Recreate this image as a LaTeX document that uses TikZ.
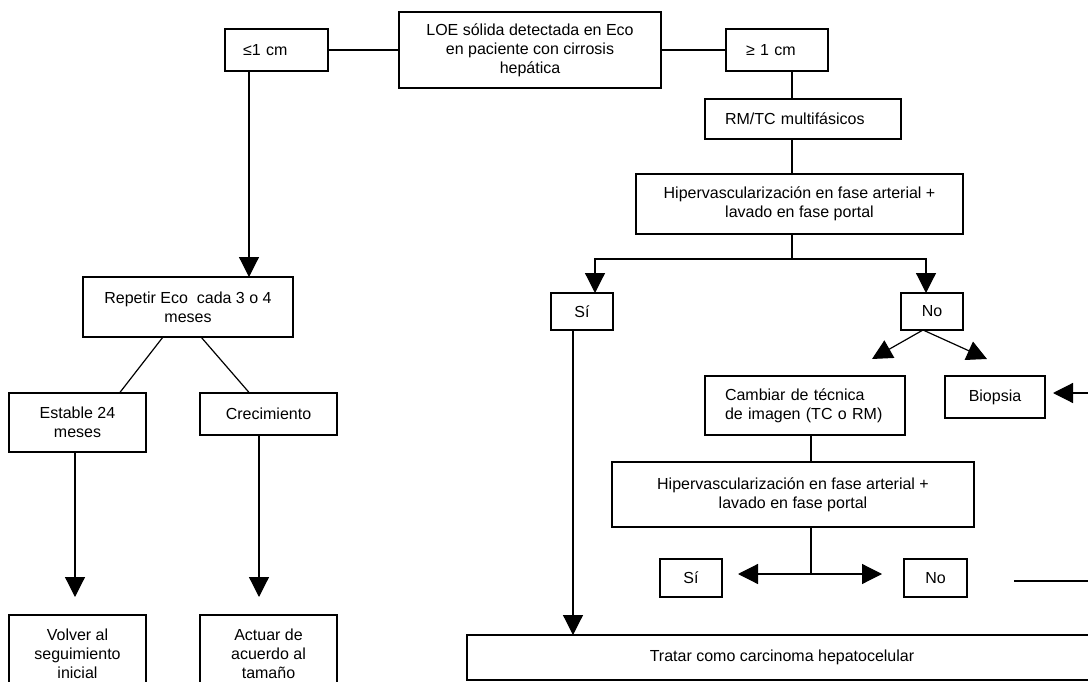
\documentclass[tikz,border=0pt]{standalone}
\usepackage{fontspec}
\setmainfont{Liberation Sans}
\usetikzlibrary{arrows.meta}
\tikzset{
  box/.style={draw, line width=1.2pt, outer sep=0pt, inner sep=0pt, align=center,
    font=\fontsize{16pt}{19pt}\selectfont},
  lbox/.style={box, align=left},
  ln/.style={line width=1.2pt},
  arr/.style={line width=1.2pt, -{Triangle[length=20pt,width=20pt]}}
}
\begin{document}
\begin{tikzpicture}[x=1pt,y=-1pt]
\useasboundingbox (0,0) rectangle (1088,682);
\clip (0,0) rectangle (1088,682);
\fill[white] (0,0) rectangle (1088,682);

% nodes
\node[lbox, minimum width=103pt, minimum height=42pt, inner xsep=18pt, text width=67pt] (le1) at (276.5,50) {≤1 cm};
\node[box, minimum width=262pt, minimum height=76pt] (loe) at (530,50) {LOE sólida detectada en Eco\\en paciente con cirrosis\\hepática};
\node[lbox, minimum width=102pt, minimum height=42pt, inner xsep=20pt, text width=62pt] (ge1) at (777,50) {≥ 1 cm};
\node[lbox, minimum width=196pt, minimum height=40pt, inner xsep=20pt, text width=156pt] (rmtc) at (803,119) {RM/TC multifásicos};
\node[box, minimum width=327pt, minimum height=60pt] (hip1) at (799.5,204) {Hipervascularización en fase arterial +\\lavado en fase portal};
\node[box, minimum width=62pt, minimum height=37pt] (si1) at (582,311.5) {Sí};
\node[box, minimum width=62pt, minimum height=37pt] (no1) at (932,311.5) {No};
\node[lbox, minimum width=200pt, minimum height=59pt, inner xsep=20pt, text width=160pt] (cambiar) at (805,405.5) {Cambiar de técnica\\de imagen (TC o RM)};
\node[box, minimum width=100pt, minimum height=42pt] (biopsia) at (995,397) {Biopsia};
\node[box, minimum width=362pt, minimum height=65pt] (hip2) at (793,494.5) {Hipervascularización en fase arterial +\\lavado en fase portal};
\node[box, minimum width=62pt, minimum height=38pt] (si2) at (691,578) {Sí};
\node[box, minimum width=63pt, minimum height=38pt] (no2) at (935.5,578) {No};
\node[box, minimum width=630pt, minimum height=45pt] (tratar) at (782,657.5) {Tratar como carcinoma hepatocelular};
\node[box, minimum width=210pt, minimum height=60pt] (repetir) at (188,307) {Repetir Eco\ \ cada 3 o 4\\meses};
\node[box, minimum width=137pt, minimum height=59pt] (estable) at (77.5,422.5) {Estable 24\\meses};
\node[box, minimum width=137pt, minimum height=42pt] (crec) at (268.5,414) {Crecimiento};
\node[box, minimum width=137pt, minimum height=77pt] (volver) at (77.5,653.5) {Volver al\\seguimiento\\inicial};
\node[box, minimum width=137pt, minimum height=77pt] (actuar) at (268.5,653.5) {Actuar de\\acuerdo al\\tamaño};

% coordinates
\coordinate (c1) at (249,0);
\coordinate (sp) at (792,259);
\coordinate (tipL) at (872,359);
\coordinate (tipR) at (987,359);
\coordinate (sp2) at (811,574);
\coordinate (tipS) at (738,574);
\coordinate (tipN) at (882,574);
\coordinate (noOut) at (1014,581);
\coordinate (farR) at (1110,581);
\coordinate (tipB) at (1053,393);
\coordinate (e1) at (75,597);
\coordinate (c2) at (259,597);

% connectors
\draw[ln] (loe.west) -- (le1.east);
\draw[ln] (loe.east) -- (ge1.west);
\draw[arr] (c1 |- le1.south) -- (c1 |- repetir.north);
\draw[ln] (sp |- ge1.south) -- (sp |- rmtc.north);
\draw[ln] (sp |- rmtc.south) -- (sp |- hip1.north);
\draw[ln] (sp |- hip1.south) -- (sp);
\draw[arr] (sp) -| ([xshift=13pt]si1.north);
\draw[arr] (sp) -| ([xshift=-6pt]no1.north);
\draw[arr] ([xshift=-9pt]si1.south) -- ([xshift=-9pt]si1.south |- tratar.north);
\draw[arr] ([xshift=-9pt]no1.south) -- (tipL);
\draw[arr] ([xshift=-9pt]no1.south) -- (tipR);
\draw[ln] (sp2 |- cambiar.south) -- (sp2 |- hip2.north);
\draw[ln] (sp2 |- hip2.south) -- (sp2);
\draw[arr] (sp2) -- (tipS);
\draw[arr] (sp2) -- (tipN);
\draw[arr] (noOut) -- (farR) |- (tipB);
\draw[ln] ([xshift=-25pt]repetir.south) -- ([xshift=42pt]estable.north);
\draw[ln] ([xshift=13pt]repetir.south) -- ([xshift=-19pt]crec.north);
\draw[arr] (e1 |- estable.south) -- (e1);
\draw[arr] (c2 |- crec.south) -- (c2);
\end{tikzpicture}
\end{document}
